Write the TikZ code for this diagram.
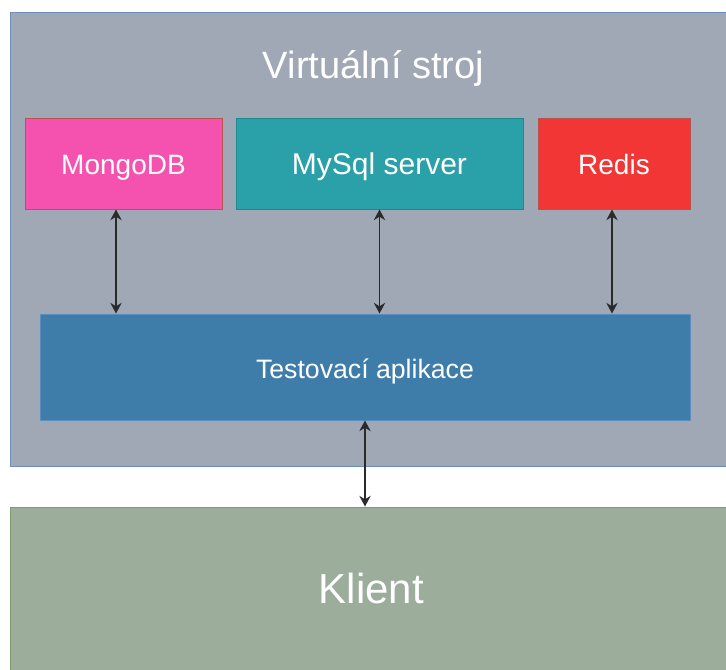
\documentclass[tikz,border=0pt]{standalone}
\usepackage{fontspec}
\setmainfont{Liberation Sans}
\usetikzlibrary{arrows.meta}
\definecolor{vmfill}{HTML}{A0A8B6}
\definecolor{vmdraw}{HTML}{6C8EBF}
\definecolor{mongofill}{HTML}{F552B0}
\definecolor{mongodraw}{HTML}{B85450}
\definecolor{mysqlfill}{HTML}{2AA0A8}
\definecolor{mysqldraw}{HTML}{1E8A92}
\definecolor{redisfill}{HTML}{F23535}
\definecolor{redisdraw}{HTML}{B85450}
\definecolor{appfill}{HTML}{3E7DAA}
\definecolor{appdraw}{HTML}{5A8EC0}
\definecolor{klfill}{HTML}{9DAD9C}
\definecolor{kldraw}{HTML}{7E9A70}
\definecolor{arrcol}{HTML}{2A2A2A}
\tikzset{
  box/.style={rectangle, inner sep=0pt, line width=0.75pt, text=white, text depth=0pt},
  arr/.style={draw=arrcol, line width=1pt, {Stealth[length=8pt,width=8.5pt]}-{Stealth[length=8pt,width=8.5pt]}}
}
\begin{document}
\begin{tikzpicture}[x=0.75pt,y=-0.75pt]
\clip (0,0) rectangle (726,669);
\fill[white] (0,0) rectangle (726,669);
\node[box, fill=vmfill, draw=vmdraw, minimum width=730*0.75pt, minimum height=454*0.75pt] (vm) at (375,239) {};
\node[text=white, font=\fontsize{28.5pt}{34pt}\selectfont] (title) at (373.5,68) {Virtuální stroj};
\node[box, fill=mongofill, draw=mongodraw, minimum width=197*0.75pt, minimum height=91*0.75pt, font=\fontsize{21pt}{25pt}\selectfont, text height=16pt] (mongo) at (123.5,163.5) {MongoDB};
\node[box, fill=mysqlfill, draw=mysqldraw, minimum width=287*0.75pt, minimum height=91*0.75pt, font=\fontsize{22.5pt}{27pt}\selectfont, text height=17pt] (mysql) at (379.5,163.5) {MySql server};
\node[box, fill=redisfill, draw=redisdraw, minimum width=152*0.75pt, minimum height=91*0.75pt, font=\fontsize{21pt}{25pt}\selectfont, text height=16pt] (redis) at (614,163.5) {Redis};
\node[box, fill=appfill, draw=appdraw, minimum width=650*0.75pt, minimum height=106*0.75pt, font=\fontsize{20pt}{24pt}\selectfont, text height=17pt] (app) at (365,367) {Testovací aplikace};
\node[box, fill=klfill, draw=kldraw, minimum width=730*0.75pt, minimum height=183*0.75pt] (klient) at (375,598.5) {};
\node[text=white, font=\fontsize{31.5pt}{38pt}\selectfont] (kltext) at (371.5,588) {Klient};
\coordinate (c1) at (116,0);
\coordinate (c3) at (612,0);
\draw[arr] (mongo.south -| c1) -- (app.north -| c1);
\draw[arr] (mysql.south) -- (app.north -| mysql.south);
\draw[arr] (redis.south -| c3) -- (app.north -| c3);
\draw[arr] (app.south) -- (klient.north -| app.south);
\end{tikzpicture}
\end{document}
